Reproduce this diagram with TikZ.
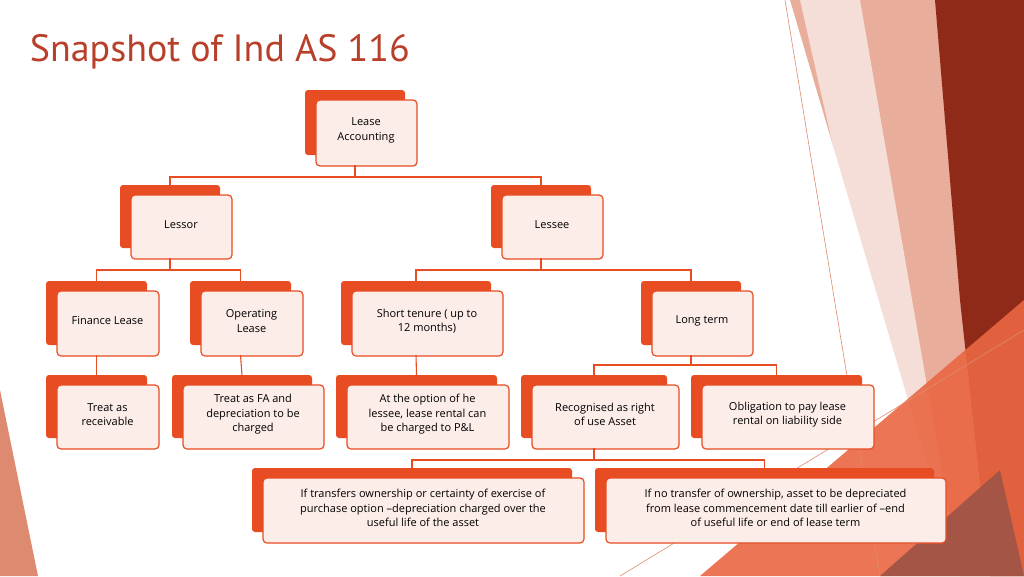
\documentclass[tikz,border=0pt]{standalone}
\usepackage{fontspec}
\setmainfont{Open Sans}
\newfontfamily\titlefont{PT Sans}
\definecolor{rouge}{HTML}{E84C22}
\definecolor{rose}{HTML}{FCEDE9}
\definecolor{titre}{HTML}{B8402A}
\definecolor{brique}{HTML}{8E2A17}
\definecolor{saumon}{HTML}{DE8A70}
\begin{document}
\begin{tikzpicture}[x=1pt,y=-1pt,line width=1.2pt]
\tikzset{
  back/.style={fill=rouge,draw=none,rounded corners=3pt},
  front/.style={fill=rose,draw=rouge,rounded corners=4pt},
  lbl/.style={align=center,font=\fontsize{11}{14.5}\selectfont,text=black},
  wire/.style={draw=rouge,line width=1.1pt}
}
% usage: \leasebox{name}{x1}{y1}{x2}{y2}{text}
\newcommand{\leasebox}[6]{%
  \fill[back] (#2,#3) rectangle (#4,#5);
  \coordinate (#1) at ({(#2+#4)/2},#3);
  \coordinate (#1b) at ({(#2+#4)/2},#5+10);
  \draw[front] (#2+11,#3+10) rectangle (#4+12,#5+11);
  \node[lbl] (#1t) at ({(#2+#4)/2+11},{(#3+#5)/2+8}) {#6};}
\useasboundingbox (0,0) rectangle (1024,576);
%% background
\fill[white] (0,0) rectangle (1024,576);
\fill[saumon!70] (790,0) -- (940,0) -- (1024,330) -- (1024,576) -- (960,576) -- cycle;
\fill[white,opacity=0.6] (800,0) -- (860,0) -- (960,576) -- (930,576) -- cycle;
\fill[brique] (935,0) -- (1024,0) -- (1024,576) -- (990,576) -- (960,300) -- cycle;
\fill[rouge!85,opacity=0.9] (700,576) -- (1024,300) -- (1024,576) -- cycle;
\fill[brique!80] (880,576) -- (1000,470) -- (1024,576) -- cycle;
\fill[saumon] (0,390) -- (38,576) -- (0,576) -- cycle;
\draw[saumon,line width=0.6pt] (785,0) -- (880,576);
\draw[saumon,line width=0.6pt] (620,576) -- (1024,330);
%% title
\node[anchor=base west,text=titre,font=\titlefont\fontsize{38}{40}\selectfont] (title) at (26,61) {Snapshot of Ind AS 116};
%% boxes
\leasebox{acc}{305}{90}{405}{155}{Lease\\Accounting}
\leasebox{lessor}{120}{185}{220}{248}{Lessor}
\leasebox{lessee}{491}{185}{591}{248}{Lessee}
\leasebox{fin}{46}{281}{147}{345}{Finance Lease}
\leasebox{ope}{190}{281}{291}{345}{Operating\\Lease}
\leasebox{short}{341}{281}{491}{345}{Short tenure ( up to\\12 months)}
\leasebox{long}{641}{281}{741}{345}{Long term}
\leasebox{recv}{46}{375}{147}{438}{Treat as\\receivable}
\leasebox{fa}{172}{375}{312}{438}{Treat as FA and\\depreciation to be\\charged}
\leasebox{opt}{336}{375}{497}{438}{At the option of he\\lessee, lease rental can\\be charged to P\&L}
\leasebox{rou}{521}{375}{667}{438}{Recognised as right\\of use Asset}
\leasebox{obl}{691}{375}{862}{438}{Obligation to pay lease\\rental on liability side}
\leasebox{tr}{252}{468}{572}{532}{If transfers ownership or certainty of exercise of\\purchase option –depreciation charged over the\\useful life of the asset}
\leasebox{notr}{595}{468}{934}{532}{If no transfer of ownership, asset to be depreciated\\from lease commencement date till earlier of –end\\of useful life or end of lease term}
%% connectors
\draw[wire] (accb) -- ++(0,12) -| (lessor);
\draw[wire] (accb) -- ++(0,12) -| (lessee);
\draw[wire] (lessorb) -- ++(0,12) -| (fin);
\draw[wire] (lessorb) -- ++(0,12) -| (ope);
\draw[wire] (lesseeb) -- ++(0,12) -| (short);
\draw[wire] (lesseeb) -- ++(0,12) -| (long);
\draw[wire] (finb) -- (recv);
\draw[wire] (opeb) -- (fa);
\draw[wire] (shortb) -- (opt);
\draw[wire] (longb) -- ++(0,10) -| (rou);
\draw[wire] (longb) -- ++(0,10) -| (obl);
\draw[wire] (roub) -- ++(0,12) -| (tr);
\draw[wire] (roub) -- ++(0,12) -| (notr);
\end{tikzpicture}
\end{document}
